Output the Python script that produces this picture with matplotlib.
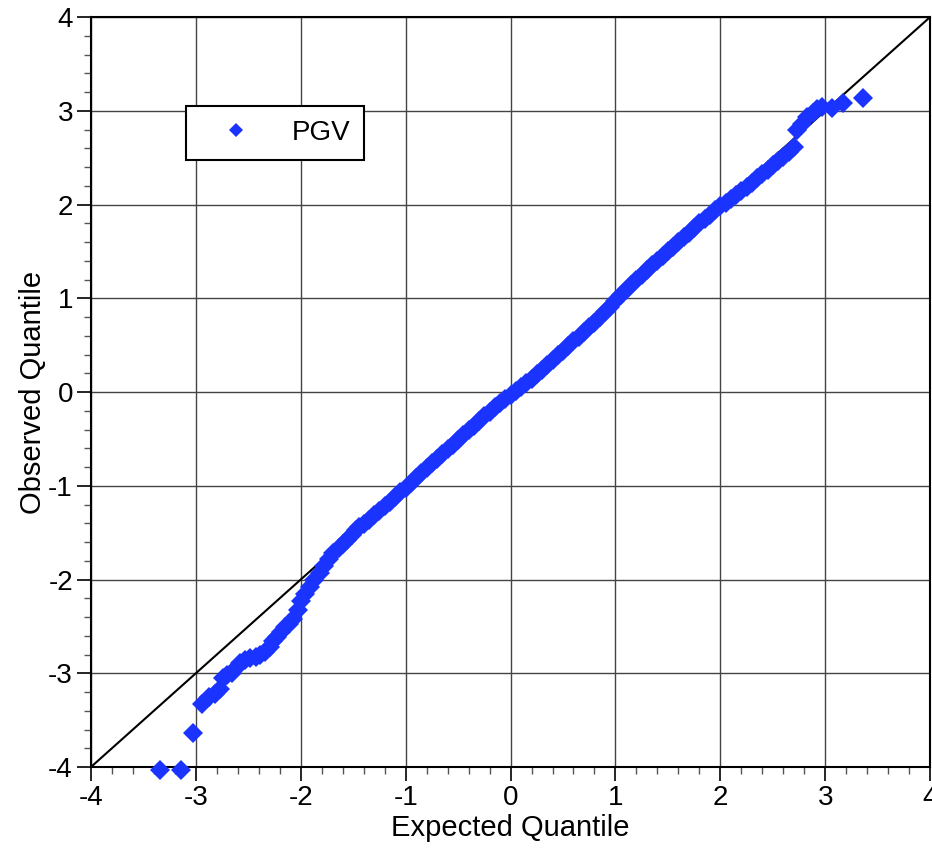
import matplotlib
matplotlib.use("Agg")
from matplotlib import pyplot as plt
from matplotlib.ticker import MultipleLocator

plt.rcParams['font.family'] = ['Liberation Sans', 'DejaVu Sans']
plt.rcParams['axes.unicode_minus'] = False

# lower tail (expected, observed)
tail_lo_x = [-3.34, -3.14, -3.03, -2.94, -2.87, -2.82, -2.77, -2.74, -2.70, -2.66,
             -2.62, -2.58, -2.53, -2.48, -2.43, -2.39, -2.34, -2.29, -2.26, -2.23,
             -2.19, -2.15, -2.11, -2.07, -2.03, -2.00, -1.96, -1.91, -1.87, -1.82,
             -1.78, -1.73, -1.69, -1.64, -1.60, -1.56, -1.51, -1.47, -1.44]
tail_lo_y = [-4.03, -4.03, -3.64, -3.33, -3.25, -3.22, -3.17, -3.05, -3.02, -3.00,
             -2.94, -2.89, -2.86, -2.84, -2.83, -2.81, -2.77, -2.72, -2.66, -2.61,
             -2.56, -2.51, -2.47, -2.42, -2.32, -2.23, -2.15, -2.08, -2.01, -1.93,
             -1.86, -1.78, -1.72, -1.66, -1.62, -1.58, -1.52, -1.47, -1.44]

# central band
mid_x = [-1.40, -1.35, -1.30, -1.25, -1.20, -1.15, -1.10, -1.05, -1.00, -0.95,
         -0.90, -0.85, -0.80, -0.75, -0.70, -0.65, -0.60, -0.55, -0.50, -0.45,
         -0.40, -0.35, -0.30, -0.25, -0.20, -0.15, -0.10, -0.05, 0.00, 0.05,
         0.10, 0.15, 0.20, 0.25, 0.30, 0.35, 0.40, 0.45, 0.50, 0.55,
         0.60, 0.65, 0.70, 0.75, 0.80, 0.85, 0.90, 0.95, 1.00, 1.05,
         1.10, 1.15, 1.20, 1.25, 1.30, 1.35, 1.40, 1.45, 1.50, 1.55,
         1.60, 1.65, 1.70, 1.75, 1.80, 1.85, 1.90, 1.95, 2.00, 2.05,
         2.10, 2.15, 2.20, 2.25, 2.30, 2.35, 2.40, 2.45, 2.50, 2.55,
         2.60, 2.65, 2.70]
mid_y = [-1.41, -1.36, -1.31, -1.27, -1.22, -1.17, -1.12, -1.07, -1.02, -0.97,
         -0.92, -0.86, -0.81, -0.76, -0.71, -0.66, -0.61, -0.56, -0.51, -0.46,
         -0.41, -0.36, -0.31, -0.26, -0.21, -0.16, -0.12, -0.07, -0.03, 0.01,
         0.05, 0.10, 0.14, 0.19, 0.24, 0.29, 0.34, 0.39, 0.44, 0.49,
         0.54, 0.59, 0.64, 0.69, 0.74, 0.80, 0.85, 0.91, 0.97, 1.03,
         1.09, 1.14, 1.19, 1.25, 1.30, 1.35, 1.40, 1.45, 1.50, 1.55,
         1.60, 1.65, 1.70, 1.75, 1.80, 1.85, 1.89, 1.94, 1.98, 2.02,
         2.06, 2.10, 2.14, 2.19, 2.23, 2.28, 2.33, 2.37, 2.42, 2.46,
         2.51, 2.56, 2.61]

# upper tail
tail_hi_x = [2.73, 2.78, 2.83, 2.88, 2.92, 2.97, 3.06, 3.17, 3.36]
tail_hi_y = [2.80, 2.86, 2.93, 2.98, 3.02, 3.04, 3.03, 3.08, 3.14]

expected = tail_lo_x + mid_x + tail_hi_x
observed = tail_lo_y + mid_y + tail_hi_y

fig = plt.figure(figsize=(9.32, 8.51), dpi=100)
ax = fig.add_axes([0.0976, 0.0987, 0.9004, 0.8813])

ax.plot([-4, 4], [-4, 4], color='black', lw=1.5, zorder=2)
ax.plot(expected, observed, linestyle='none', marker='D', markersize=10,
        color='#1a33ff', markeredgewidth=0, label='PGV', zorder=3, clip_on=False)

ax.set_xlim(-4, 4)
ax.set_ylim(-4, 4)
ax.xaxis.set_major_locator(MultipleLocator(1))
ax.yaxis.set_major_locator(MultipleLocator(1))
ax.xaxis.set_minor_locator(MultipleLocator(0.2))
ax.yaxis.set_minor_locator(MultipleLocator(0.2))
ax.grid(True, which='major', color='#444444', lw=1.0, zorder=1)
ax.tick_params(which='major', direction='out', length=10, width=1.2,
               labelsize=20, colors='black', pad=3)
ax.tick_params(which='minor', direction='out', length=5, width=1.0, color='#555555')
for s in ax.spines.values():
    s.set_linewidth(1.5)

ax.set_xlabel('Expected Quantile', fontsize=21, labelpad=2)
ax.set_ylabel('Observed Quantile', fontsize=21, labelpad=1)

leg = ax.legend(loc='upper left', bbox_to_anchor=(0.113, 0.881), fontsize=20,
                frameon=True, fancybox=False, edgecolor='black', framealpha=1,
                borderpad=0.5, handletextpad=0.7, borderaxespad=0,
                handlelength=2.6, markerscale=0.75)
leg.get_frame().set_linewidth(1.5)

plt.savefig('out.png', dpi=100)
plt.close()
